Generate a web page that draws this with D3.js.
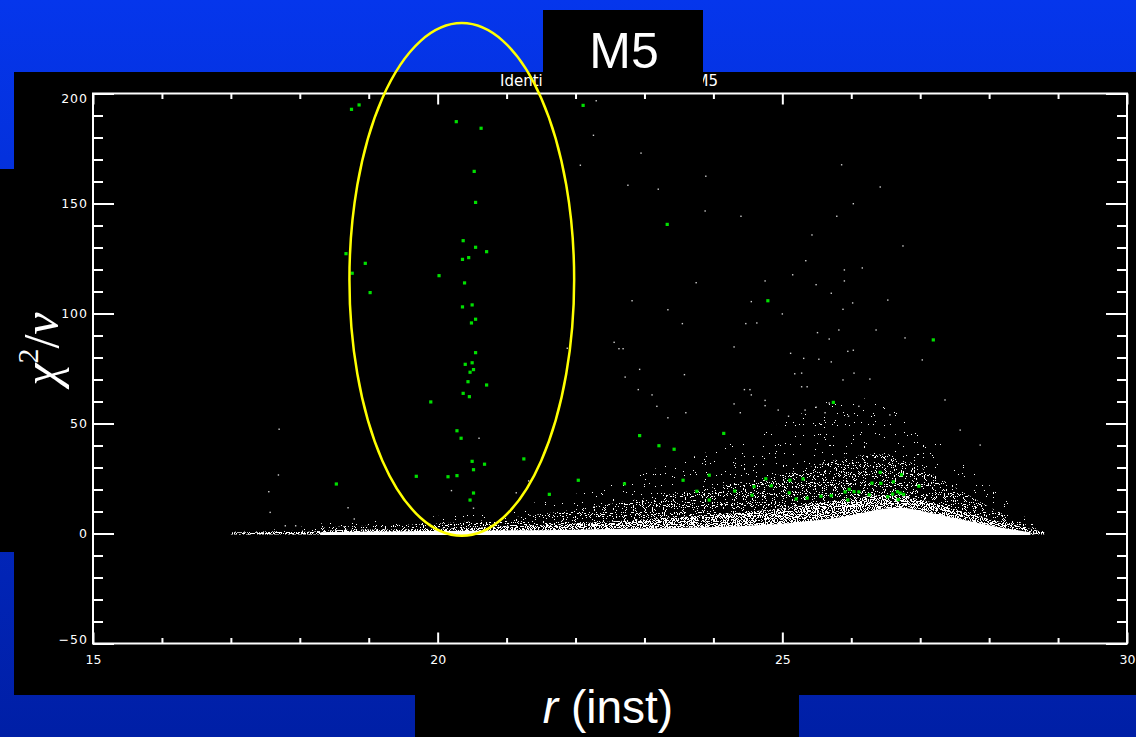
<!DOCTYPE html>
<html>
<head>
<meta charset="utf-8">
<title>M5 - chi2/nu vs r (inst)</title>
<script src="https://cdn.jsdelivr.net/npm/d3@7/dist/d3.min.js"></script>
<style>
  html, body { margin: 0; padding: 0; background: #0433e6; }
  svg { display: block; }
</style>
</head>
<body>
<svg id="chart" width="1136" height="737"></svg>
<script>
(function() {
  'use strict';

  // axis ticks
  const xTicks = [15, 20, 25, 30];
  const xMinor = [16, 17, 18, 19, 21, 22, 23, 24, 26, 27, 28, 29];
  const yTicks = [-50, 0, 50, 100, 150, 200];
  const yMinor = [-40, -30, -20, -10, 10, 20, 30, 40, 60, 70, 80, 90, 110, 120, 130, 140, 160, 170, 180, 190];

  // flagged objects (green), r and chi2/nu
  const flaggedR = [
    18.75, 18.86, 20.27, 20.63, 20.53, 20.55, 20.37, 20.55, 20.71, 18.67,
    18.95, 20.36, 20.45, 18.76, 20.02, 20.39, 19.02, 20.36, 20.50, 20.55,
    20.49, 20.55, 20.40, 20.50, 20.52, 20.47, 20.71, 20.44, 20.37, 20.46,
    19.90, 20.28, 20.34, 21.25, 20.50, 20.68, 20.52, 18.53, 19.69, 20.15,
    20.28, 20.52, 20.47, 21.62, 22.04, 22.11, 23.33, 24.79, 25.74, 24.15,
    24.76, 25.11, 25.30, 24.84, 24.59, 24.31, 24.56, 25.10, 25.20, 25.36,
    25.56, 25.71, 25.91, 25.97, 26.04, 26.11, 25.95, 26.26, 26.30, 26.42,
    26.43, 26.61, 26.73, 26.53, 26.60, 26.67, 26.71, 26.76, 26.68, 26.98,
    27.19, 22.93, 23.21, 23.43, 22.71, 23.56, 23.94, 23.76, 23.94
  ];
  const flaggedChi = [
    192.8, 194.8, 187.2, 184.2, 164.6, 150.5, 133.1, 130.1, 128.1, 127.2,
    122.8, 124.6, 125.4, 118.3, 117.2, 113.9, 109.5, 103.0, 103.9, 97.4,
    95.7, 82.2, 76.9, 77.6, 74.5, 73.3, 67.5, 69.0, 63.7, 62.2,
    59.8, 46.7, 43.3, 33.9, 32.8, 31.5, 29.0, 22.5, 26.0, 25.8,
    26.3, 18.4, 15.2, 17.8, 24.2, 194.6, 140.5, 105.8, 59.6, 45.5,
    24.9, 24.2, 24.8, 21.7, 21.3, 19.3, 17.4, 18.5, 15.7, 16.1,
    16.9, 17.2, 18.9, 20.1, 19.0, 18.9, 15.2, 17.6, 22.9, 27.8,
    22.8, 23.5, 26.7, 16.7, 17.9, 19.0, 18.4, 17.8, 15.4, 21.5,
    88.0, 44.5, 39.9, 38.3, 22.6, 24.2, 26.5, 19.2, 15.2
  ];

  // isolated stars well above the bulk of the measurements
  const strayR = [
    22.26, 22.95, 23.89, 22.76, 23.20, 23.88, 24.40, 25.86, 26.03, 25.79,
    25.43, 25.34, 25.15, 24.75, 25.90, 25.90, 25.49, 25.71, 23.75, 22.82,
    23.34, 23.55, 24.47, 24.63, 25.00, 24.55, 25.88, 26.02, 25.51, 25.82,
    25.68, 22.56, 22.63, 22.69, 24.30, 25.12, 25.31, 25.53, 25.95, 26.03,
    25.71, 22.93, 22.72, 23.58, 25.18, 25.28, 26.04, 25.88, 25.28, 25.36,
    24.45, 24.53, 24.55, 22.91, 23.11, 23.18, 23.34, 23.60, 24.30, 24.39,
    24.75, 24.75, 24.94, 25.09, 25.33, 25.49, 25.62, 25.68, 25.96, 26.11,
    22.30, 22.07, 17.70, 17.69, 17.55, 17.57, 17.79, 17.94, 18.70, 18.79,
    20.60, 20.20, 20.52, 21.14, 21.32, 21.88, 26.42, 26.75, 26.16, 26.53,
    26.78, 26.36, 27.03, 26.27, 27.36, 27.58, 26.56, 27.87, 28.66
  ];
  const strayChi = [
    181.0, 172.9, 162.4, 158.3, 156.5, 146.6, 144.2, 167.6, 149.9, 144.2,
    135.7, 124.0, 117.6, 114.8, 119.8, 114.8, 113.1, 109.2, 114.0, 105.8,
    101.7, 95.4, 95.4, 95.7, 99.8, 105.4, 101.9, 104.8, 91.3, 92.5,
    88.4, 86.9, 84.0, 84.0, 84.8, 81.9, 79.6, 79.2, 82.8, 83.3,
    78.0, 74.6, 71.1, 72.2, 72.6, 72.9, 72.9, 69.8, 66.7, 66.7,
    65.4, 65.4, 63.0, 65.4, 63.0, 57.8, 52.6, 54.9, 58.9, 54.9,
    60.5, 58.1, 56.1, 53.3, 56.1, 57.4, 54.9, 59.3, 53.3, 57.8,
    196.7, 167.4, 47.4, 26.6, 19.0, 9.6, 3.5, 3.5, 11.7, 6.6,
    43.3, 19.5, 11.5, 18.5, 23.9, 84.2, 157.5, 130.7, 120.7, 106.1,
    88.9, 92.5, 78.9, 70.2, 60.7, 47.0, 53.9, 40.2, 0.0
  ];

  // bulk of the measurements: upper edges of the point cloud per r,
  // from the densest part (core) out to the thin outer fringe
  const cloudR = [17.0, 18.0, 18.4, 19.0, 20.0, 21.0, 22.0, 23.0, 24.0, 25.0, 25.5, 26.0, 26.5, 27.0, 27.5, 28.0, 28.5, 28.8];
  const denseTop = [0.6, 0.7, 1.4, 1.8, 2.2, 3.2, 4.6, 6.5, 8.5, 11.5, 13.5, 16.0, 17.5, 15.5, 11.0, 6.5, 2.8, 0.6];
  const sparseTop = [0.8, 1.2, 2.8, 3.5, 4.5, 7.0, 11.0, 16.0, 21.0, 27.0, 31.0, 35.0, 36.0, 30.0, 21.0, 12.0, 4.5, 0.8];
  const faintTop = [1.0, 3.0, 5.0, 6.0, 8.0, 12.0, 18.0, 28.0, 38.0, 50.0, 58.0, 62.0, 58.0, 48.0, 36.0, 22.0, 8.0, 1.0];
  const coreR = [18.3, 19.0, 20.0, 21.0, 22.0, 23.0, 24.0, 24.5, 25.0, 25.5, 26.0, 26.25, 26.5, 26.75, 27.0, 27.5, 28.0, 28.3, 28.6];
  const coreTop = [0.6, 0.9, 1.2, 1.4, 1.7, 2.2, 2.9, 3.5, 4.4, 5.8, 8.2, 10.0, 11.5, 12.0, 10.5, 7.0, 3.8, 2.0, 0.6];

  // hand-drawn selection ellipse (data units)
  const ellipseCenter = [20.35, 115.5];
  const ellipseHalf = [1.63, 116.5];

  const W = 1136, H = 737;
  const plot = { left: 93, top: 93.5, right: 1127, bottom: 643.5 };
  const tickFont = '"DejaVu Sans", sans-serif';

  const svg = d3.select('#chart');

  const x = d3.scaleLinear().domain([15, 30]).range([plot.left, plot.right]);
  const y = d3.scaleLinear().domain([-50, 200]).range([plot.bottom, plot.top]);

  const defs = svg.append('defs');
  const bg = defs.append('linearGradient').attr('id', 'bg')
    .attr('x1', 0).attr('y1', 0).attr('x2', 0).attr('y2', 1);
  bg.append('stop').attr('offset', '0%').attr('stop-color', '#0536ec');
  bg.append('stop').attr('offset', '100%').attr('stop-color', '#001fa6');
  defs.append('clipPath').attr('id', 'plotClip').append('rect')
    .attr('x', plot.left).attr('y', plot.top)
    .attr('width', plot.right - plot.left).attr('height', plot.bottom - plot.top);

  // grain filters: keep only a fraction of the pixels of a filled area,
  // so the density layers read as scattered single points
  function grainFilter(id, seed, threshold) {
    const f = defs.append('filter').attr('id', id)
      .attr('filterUnits', 'userSpaceOnUse')
      .attr('color-interpolation-filters', 'sRGB')
      .attr('x', plot.left).attr('y', plot.top)
      .attr('width', plot.right - plot.left).attr('height', plot.bottom - plot.top);
    f.append('feTurbulence')
      .attr('type', 'fractalNoise')
      .attr('baseFrequency', 0.9)
      .attr('numOctaves', 1)
      .attr('seed', seed)
      .attr('result', 'noise');
    f.append('feColorMatrix')
      .attr('in', 'noise')
      .attr('type', 'matrix')
      .attr('values', '0 0 0 0 1  0 0 0 0 1  0 0 0 0 1  1 0 0 0 0')
      .attr('result', 'grain');
    const table = d3.range(50).map(k => (k / 50 >= threshold ? 1 : 0)).join(' ');
    f.append('feComponentTransfer')
      .attr('in', 'grain')
      .attr('result', 'dots')
      .append('feFuncA').attr('type', 'discrete').attr('tableValues', table);
    f.append('feComposite').attr('in', 'dots').attr('in2', 'SourceGraphic').attr('operator', 'in');
  }
  grainFilter('grainFaint', 3, 0.72);
  grainFilter('grainSparse', 11, 0.62);
  grainFilter('grainDense', 27, 0.52);

  svg.append('rect').attr('width', W).attr('height', H).attr('fill', 'url(#bg)');

  // black panels
  svg.append('rect').attr('x', 14).attr('y', 72).attr('width', W - 14).attr('height', 623).attr('fill', '#000');
  svg.append('rect').attr('x', 0).attr('y', 169).attr('width', 20).attr('height', 383).attr('fill', '#000');
  svg.append('rect').attr('x', 415).attr('y', 690).attr('width', 384).attr('height', 47).attr('fill', '#000');

  // plot title: only its two ends show round the M5 box
  svg.append('text')
    .attr('x', 500)
    .attr('y', 86)
    .attr('fill', '#fff')
    .attr('font-family', tickFont)
    .attr('font-size', 15)
    .text('Identi');
  svg.append('text')
    .attr('x', 718)
    .attr('y', 86)
    .attr('text-anchor', 'end')
    .attr('fill', '#fff')
    .attr('font-family', tickFont)
    .attr('font-size', 15)
    .text('M5');

  svg.append('rect').attr('x', 543).attr('y', 10).attr('width', 160).attr('height', 78).attr('fill', '#000');
  svg.append('text')
    .attr('x', 624)
    .attr('y', 68)
    .attr('text-anchor', 'middle')
    .attr('fill', '#fff')
    .attr('font-family', '"Liberation Sans", Arial, sans-serif')
    .attr('font-size', 50)
    .text('M5');

  // point cloud
  const cloud = svg.append('g').attr('clip-path', 'url(#plotClip)');
  const layers = [
    { tops: faintTop, filter: 'grainFaint' },
    { tops: sparseTop, filter: 'grainSparse' },
    { tops: denseTop, filter: 'grainDense' }
  ];
  layers.forEach(layer => {
    const area = d3.area()
      .x((d, i) => x(cloudR[i]))
      .y0(y(-0.5))
      .y1(d => y(d))
      .curve(d3.curveMonotoneX);
    cloud.append('path')
      .attr('d', area(layer.tops))
      .attr('fill', '#fff')
      .attr('filter', `url(#${layer.filter})`);
  });
  const coreArea = d3.area()
    .x((d, i) => x(coreR[i]))
    .y0(y(-0.7))
    .y1(d => y(d))
    .curve(d3.curveBasis);
  cloud.append('path').attr('d', coreArea(coreTop)).attr('fill', '#fff');

  cloud.selectAll('rect.stray')
    .data(strayR)
    .enter().append('rect')
    .attr('class', 'stray')
    .attr('x', d => x(d) - 0.7)
    .attr('y', (d, i) => y(strayChi[i]) - 0.7)
    .attr('width', 1.4)
    .attr('height', 1.4)
    .attr('fill', '#cfcfcf');

  // axes: ticks point inward on all four sides
  function styleAxis(g) {
    g.select('.domain').remove();
    g.selectAll('.tick line').attr('stroke', '#fff').attr('stroke-width', 2);
    g.selectAll('.tick text')
      .attr('fill', '#fff')
      .attr('font-family', tickFont)
      .attr('font-size', 12.5);
  }

  svg.append('g').attr('transform', `translate(0,${plot.bottom})`)
    .call(d3.axisBottom(x).tickValues(xTicks).tickSize(-11).tickPadding(12).tickFormat(d3.format('d')))
    .call(styleAxis);
  svg.append('g').attr('transform', `translate(0,${plot.bottom})`)
    .call(d3.axisBottom(x).tickValues(xMinor).tickSize(-5.5).tickFormat(''))
    .call(styleAxis);
  svg.append('g').attr('transform', `translate(0,${plot.top})`)
    .call(d3.axisTop(x).tickValues(xTicks).tickSize(-11).tickFormat(''))
    .call(styleAxis);
  svg.append('g').attr('transform', `translate(0,${plot.top})`)
    .call(d3.axisTop(x).tickValues(xMinor).tickSize(-5.5).tickFormat(''))
    .call(styleAxis);

  const yAxis = svg.append('g').attr('transform', `translate(${plot.left},0)`)
    .call(d3.axisLeft(y).tickValues(yTicks).tickSize(-21).tickPadding(5).tickFormat(d3.format('d')))
    .call(styleAxis);
  yAxis.selectAll('.tick text').attr('letter-spacing', 1)
    .attr('dy', d => d === 200 ? '0.75em' : (d === -50 ? '0em' : '0.32em'));
  svg.append('g').attr('transform', `translate(${plot.left},0)`)
    .call(d3.axisLeft(y).tickValues(yMinor).tickSize(-10).tickFormat(''))
    .call(styleAxis);
  svg.append('g').attr('transform', `translate(${plot.right},0)`)
    .call(d3.axisRight(y).tickValues(yTicks).tickSize(-21).tickFormat(''))
    .call(styleAxis);
  svg.append('g').attr('transform', `translate(${plot.right},0)`)
    .call(d3.axisRight(y).tickValues(yMinor).tickSize(-10).tickFormat(''))
    .call(styleAxis);

  svg.append('rect')
    .attr('x', plot.left).attr('y', plot.top)
    .attr('width', plot.right - plot.left).attr('height', plot.bottom - plot.top)
    .attr('fill', 'none').attr('stroke', '#fff').attr('stroke-width', 2);

  // flagged objects
  svg.append('g').selectAll('rect')
    .data(flaggedR)
    .enter().append('rect')
    .attr('x', d => x(d) - 1.6)
    .attr('y', (d, i) => y(flaggedChi[i]) - 1.6)
    .attr('width', 3.2)
    .attr('height', 3.2)
    .attr('fill', '#00e000');

  // axis titles
  const yLabel = svg.append('text')
    .attr('transform', 'translate(58,349) rotate(-90)')
    .attr('text-anchor', 'middle')
    .attr('fill', '#fff')
    .attr('font-family', '"Liberation Serif", "Times New Roman", serif')
    .attr('font-size', 50);
  yLabel.append('tspan').attr('font-style', 'italic').text('χ');
  yLabel.append('tspan').attr('font-size', 30).attr('dy', -20).text('2');
  yLabel.append('tspan').attr('dy', 20).text('/');
  yLabel.append('tspan').attr('font-style', 'italic').text('ν');

  const xLabel = svg.append('text')
    .attr('x', 608)
    .attr('y', 723)
    .attr('text-anchor', 'middle')
    .attr('fill', '#fff')
    .attr('font-family', '"Liberation Sans", Arial, sans-serif')
    .attr('font-size', 46);
  xLabel.append('tspan').attr('font-style', 'italic').text('r');
  xLabel.append('tspan').text(' (inst)');

  // selection ellipse drawn over everything
  svg.append('ellipse')
    .attr('cx', x(ellipseCenter[0]))
    .attr('cy', y(ellipseCenter[1]))
    .attr('rx', x(ellipseCenter[0] + ellipseHalf[0]) - x(ellipseCenter[0]))
    .attr('ry', y(ellipseCenter[1] - ellipseHalf[1]) - y(ellipseCenter[1]))
    .attr('fill', 'none')
    .attr('stroke', '#ffff00')
    .attr('stroke-width', 2.5);
})();
</script>
</body>
</html>
